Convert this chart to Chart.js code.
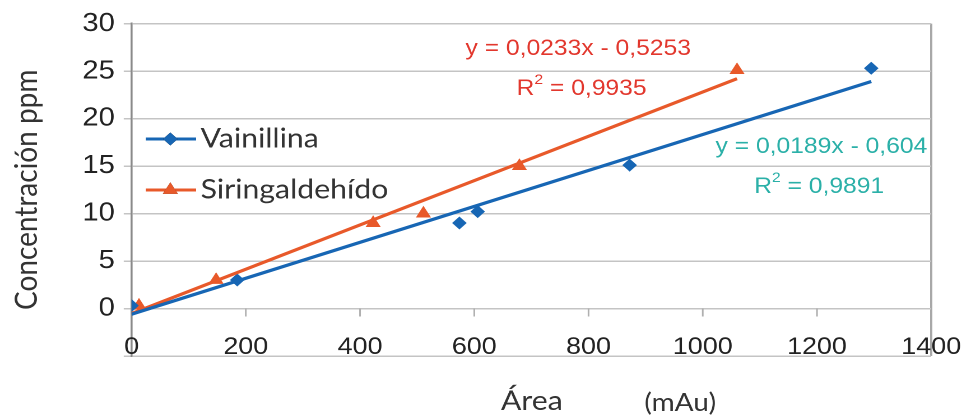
<!DOCTYPE html>
<html>
<head>
<meta charset="utf-8">
<script src="https://cdn.jsdelivr.net/npm/chart.js@4.4.1/dist/chart.umd.min.js"></script>
<style>
  html, body { margin: 0; padding: 0; background: #fff; overflow: hidden; }
  /* the reference is stretched sideways, so draw narrower and stretch */
  #wrap { width: 862px; height: 417px; transform: scaleX(1.1206); transform-origin: 0 0; }
</style>
</head>
<body>
<div id="wrap"><canvas id="canvas"></canvas></div>
<script>
var seriesNames = ["Vainillina", "Siringaldehído"];

var vainArea = [0, 185, 574, 606, 872, 1295];
var vainConc = [0.3, 3, 9, 10.2, 15.1, 25.3];
var sirArea = [13, 148, 423, 511, 679, 1060];
var sirConc = [0.3, 3, 9, 10, 15, 25.1];

// trend lines, end points
var vainTrendX = [0, 1295];
var vainTrendY = [-0.6, 23.9];
var sirTrendX = [0, 1060];
var sirTrendY = [-0.53, 24.2];

var vainEq = ["y = 0,0189x - 0,604", "0,9891"];
var sirEq = ["y = 0,0233x - 0,5253", "0,9935"];

var xTicks = [0, 200, 400, 600, 800, 1000, 1200, 1400];
var yTicks = [-5, 0, 5, 10, 15, 20, 25, 30];

var blue = "#1766b4";
var orange = "#e8592a";

function pts(xs, ys) {
  return xs.map(function (x, i) { return { x: x, y: ys[i] }; });
}

function drawR2(ctx, val, cx, cy, color) {
  var big = "22px 'Liberation Sans', Arial";
  var small = "14px 'Liberation Sans', Arial";
  ctx.font = big;
  var wR = ctx.measureText("R").width;
  var wRest = ctx.measureText(" = " + val).width;
  ctx.font = small;
  var w2 = ctx.measureText("2").width;
  var x = cx - (wR + w2 + wRest) / 2;
  ctx.fillStyle = color;
  ctx.textAlign = "left";
  ctx.textBaseline = "middle";
  ctx.font = big;
  ctx.fillText("R", x, cy);
  ctx.font = small;
  ctx.fillText("2", x + wR, cy - 9);
  ctx.font = big;
  ctx.fillText(" = " + val, x + wR + w2, cy);
}

var extras = {
  id: "extras",
  beforeDatasetsDraw: function (chart) {
    var ctx = chart.ctx, xs = chart.scales.x, ys = chart.scales.y;
    var y0 = ys.getPixelForValue(0);
    ctx.save();
    ctx.strokeStyle = "#b0b0b0";
    ctx.lineWidth = 1.5;
    xs.ticks.forEach(function (t) {
      if (t.value === 0 || t.value === 1400) return;
      var px = xs.getPixelForValue(t.value);
      ctx.beginPath();
      ctx.moveTo(px, y0);
      ctx.lineTo(px, y0 + 8);
      ctx.stroke();
    });
    // x tick labels sit inside the plot, just above its bottom edge
    ctx.fillStyle = "#222";
    ctx.font = "24px 'Liberation Sans', Arial";
    ctx.textAlign = "center";
    ctx.textBaseline = "alphabetic";
    var yl = ys.getPixelForValue(-5) - 2;
    xs.ticks.forEach(function (t) {
      ctx.fillText(String(t.value), xs.getPixelForValue(t.value), yl);
    });
    ctx.restore();
  },
  afterDraw: function (chart) {
    var ctx = chart.ctx;
    ctx.save();

    // legend: line with marker
    var rows = [
      { ds: chart.data.datasets[0], y: 139 },
      { ds: chart.data.datasets[1], y: 190 }
    ];
    rows.forEach(function (r) {
      ctx.strokeStyle = r.ds.borderColor;
      ctx.lineWidth = 3;
      ctx.beginPath();
      ctx.moveTo(130, r.y);
      ctx.lineTo(175, r.y);
      ctx.stroke();
      Chart.helpers.drawPoint(ctx, {
        pointStyle: r.ds.pointStyle,
        radius: r.ds.pointRadius,
        borderWidth: 0,
        rotation: 0
      }, 152, r.y);
      ctx.fillStyle = r.ds.backgroundColor;
      ctx.fill();
      ctx.fillStyle = "#333";
      ctx.font = "27px Lato";
      ctx.textAlign = "left";
      ctx.textBaseline = "middle";
      ctx.fillText(r.ds.label, 179, r.y);
    });

    // trend equations
    ctx.font = "22px 'Liberation Sans', Arial";
    ctx.textAlign = "center";
    ctx.textBaseline = "middle";
    ctx.fillStyle = "#e2372d";
    ctx.fillText(sirEq[0], 516, 49);
    drawR2(ctx, sirEq[1], 519, 89, "#e2372d");
    ctx.font = "22px 'Liberation Sans', Arial";
    ctx.textAlign = "center";
    ctx.fillStyle = "#2bb0a8";
    ctx.fillText(vainEq[0], 733, 147);
    drawR2(ctx, vainEq[1], 731, 187, "#2bb0a8");

    // x axis title
    ctx.fillStyle = "#333";
    ctx.textAlign = "left";
    ctx.textBaseline = "alphabetic";
    ctx.font = "27px Lato";
    ctx.fillText("Área", 447, 410);
    ctx.font = "25px Lato";
    ctx.fillText("(mAu)", 575, 411);
    ctx.restore();
  }
};

window.onload = function () {
  var ctx = document.getElementById("canvas").getContext("2d");
  new Chart(ctx, {
    type: "scatter",
    data: {
      datasets: [
        {
          label: seriesNames[0],
          data: pts(vainArea, vainConc),
          pointStyle: "rectRot",
          pointRadius: 6.5,
          backgroundColor: blue,
          borderColor: blue,
          borderWidth: 0,
          order: 2
        },
        {
          label: seriesNames[1],
          data: pts(sirArea, sirConc),
          pointStyle: "triangle",
          pointRadius: 7.8,
          backgroundColor: orange,
          borderColor: orange,
          borderWidth: 0,
          order: 2
        },
        {
          label: "trend1",
          data: pts(vainTrendX, vainTrendY),
          showLine: true,
          pointRadius: 0,
          borderColor: blue,
          borderWidth: 3.2,
          order: 1
        },
        {
          label: "trend2",
          data: pts(sirTrendX, sirTrendY),
          showLine: true,
          pointRadius: 0,
          borderColor: orange,
          borderWidth: 3.2,
          order: 1
        }
      ]
    },
    options: {
      responsive: true,
      maintainAspectRatio: false,
      animation: false,
      devicePixelRatio: 2,
      layout: { padding: { left: 0, right: 31, top: 22, bottom: 61 } },
      plugins: { legend: { display: false }, tooltip: { enabled: false } },
      scales: {
        x: {
          type: "linear",
          min: 0,
          max: 1400,
          afterBuildTicks: function (s) {
            s.ticks = xTicks.map(function (v) { return { value: v }; });
          },
          afterFit: function (s) { s.height = 0; },
          grid: {
            drawTicks: false,
            lineWidth: 2,
            color: function (c) {
              return c.tick && c.tick.value === 1400 ? "#a8a8a8" : "rgba(0,0,0,0)";
            }
          },
          border: { display: false },
          ticks: { display: false }
        },
        y: {
          min: -5,
          max: 30,
          afterBuildTicks: function (s) {
            s.ticks = yTicks.map(function (v) { return { value: v }; });
          },
          afterFit: function (s) { s.width = 117.4; },
          grid: { color: "#c4c4c4", lineWidth: 1.5, tickLength: 7 },
          border: { display: true, color: "#8a8a8a", width: 1.8 },
          ticks: {
            padding: 8,
            color: "#222",
            font: { family: "'Liberation Sans', Arial", size: 26 },
            callback: function (v) { return v === -5 ? "" : v; }
          },
          title: {
            display: true,
            text: "Concentración ppm",
            color: "#333",
            padding: { top: 7, bottom: 0 },
            font: { family: "Lato", size: 28 }
          }
        }
      }
    },
    plugins: [extras]
  });
};
</script>
</body>
</html>
